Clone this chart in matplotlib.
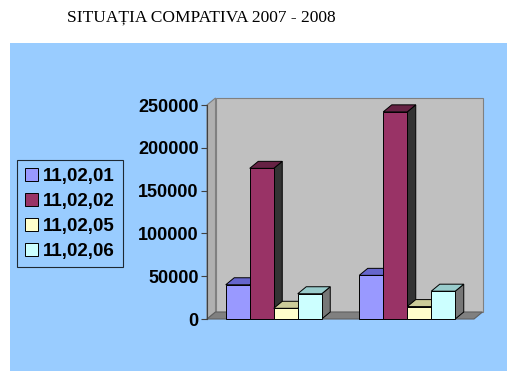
import matplotlib
matplotlib.use("Agg")
import matplotlib.pyplot as plt
from matplotlib.patches import Polygon, Rectangle
import numpy as np

title = "SITUAȚIA COMPATIVA 2007 - 2008"
groups = ["2007", "2008"]
series_names = ["11,02,01", "11,02,02", "11,02,05", "11,02,06"]
s_110201 = [40000, 51000]
s_110202 = [176000, 242000]
s_110205 = [12500, 14500]
s_110206 = [29500, 32500]
yticks = [0, 50000, 100000, 150000, 200000, 250000]
colors = ["#9999FF", "#993366", "#FFFFCC", "#CCFFFF"]
top_colors = ["#6666CC", "#662244", "#CCCC99", "#99CCCC"]
side_colors = ["#555588", "#333333", "#888866", "#777777"]

series = [s_110201, s_110202, s_110205, s_110206]

W, H = 518, 380
fig = plt.figure(figsize=(W / 100, H / 100), dpi=100)
fig.patch.set_facecolor("white")

# background axes with blue panel
bg = fig.add_axes([0, 0, 1, 1], zorder=-5)
bg.set_xlim(0, W)
bg.set_ylim(H, 0)
bg.axis("off")
bg.add_patch(Rectangle((10, 43), 507 - 10, 371 - 43, facecolor="#99CCFF", edgecolor="none"))

fig.text(201 / W, 1 - 17 / H, title, ha="center", va="center",
         fontsize=12.5, family="Liberation Serif")

left, right, bot, top = 207, 474, 319, 105
ax = fig.add_axes([left / W, 1 - bot / H, (right - left) / W, (bot - top) / H], zorder=1)
ax.set_facecolor("none")
xmin, xmax = -0.5, 1.5
ymax = 250000
ax.set_xlim(xmin, xmax)
ax.set_ylim(0, ymax)

px_x = (right - left) / (xmax - xmin)
px_y = (bot - top) / ymax
dx = 8.5 / px_x
dy = 7 / px_y

# walls
ax.add_patch(Polygon([(xmin + dx, dy), (xmax + dx, dy), (xmax + dx, ymax + dy), (xmin + dx, ymax + dy)],
                     closed=True, facecolor="#C0C0C0", edgecolor="#808080", lw=0.8,
                     clip_on=False, zorder=1))
ax.add_patch(Polygon([(xmin, 0), (xmin + dx, dy), (xmin + dx, ymax + dy), (xmin, ymax)],
                     closed=True, facecolor="#B0B0B0", edgecolor="#808080", lw=0.8,
                     clip_on=False, zorder=1))
ax.add_patch(Polygon([(xmin, 0), (xmax, 0), (xmax + dx, dy), (xmin + dx, dy)],
                     closed=True, facecolor="#808080", edgecolor="#606060", lw=0.8,
                     clip_on=False, zorder=1))

bw = 24 / px_x
x = np.arange(len(groups))
offsets = [-1.5, -0.5, 0.5, 1.5]
handles = []
for i, (vals, c) in enumerate(zip(series, colors)):
    xs = x + offsets[i] * bw
    for j, (xc, v) in enumerate(zip(xs, vals)):
        x0, x1 = xc - bw / 2, xc + bw / 2
        ax.add_patch(Polygon([(x1, 0), (x1 + dx, dy), (x1 + dx, v + dy), (x1, v)], closed=True,
                             facecolor=side_colors[i], edgecolor="black", lw=0.7,
                             clip_on=False, zorder=2 + i))
        ax.add_patch(Polygon([(x0, v), (x1, v), (x1 + dx, v + dy), (x0 + dx, v + dy)], closed=True,
                             facecolor=top_colors[i], edgecolor="black", lw=0.7,
                             clip_on=False, zorder=2 + i))
    b = ax.bar(xs, vals, width=bw, color=c, edgecolor="black", linewidth=0.7,
               zorder=3 + i, label=series_names[i])
    for p in b:
        p.set_clip_on(False)
    handles.append(b)

for s in ["top", "right", "bottom"]:
    ax.spines[s].set_visible(False)
ax.spines["left"].set_color("#404040")
ax.spines["left"].set_zorder(10)
ax.set_xticks([])
ax.set_yticks(yticks)
ax.set_yticklabels([str(t) for t in yticks], fontsize=13, fontweight="bold",
                   family="Liberation Sans")
ax.tick_params(axis="y", length=4, color="#404040", pad=2)

leg = fig.legend(handles=handles, labels=series_names, loc="upper left",
                 bbox_to_anchor=(17 / W, 1 - 160 / H), borderaxespad=0, frameon=True,
                 prop={"family": "Liberation Sans", "weight": "bold", "size": 13.5},
                 handlelength=0.7, handleheight=0.7, handletextpad=0.3,
                 labelspacing=0.42, borderpad=0.4, fancybox=False)
leg.get_frame().set_facecolor("#99CCFF")
leg.get_frame().set_edgecolor("black")
leg.get_frame().set_linewidth(0.8)

fig.savefig("out.png", dpi=100)
